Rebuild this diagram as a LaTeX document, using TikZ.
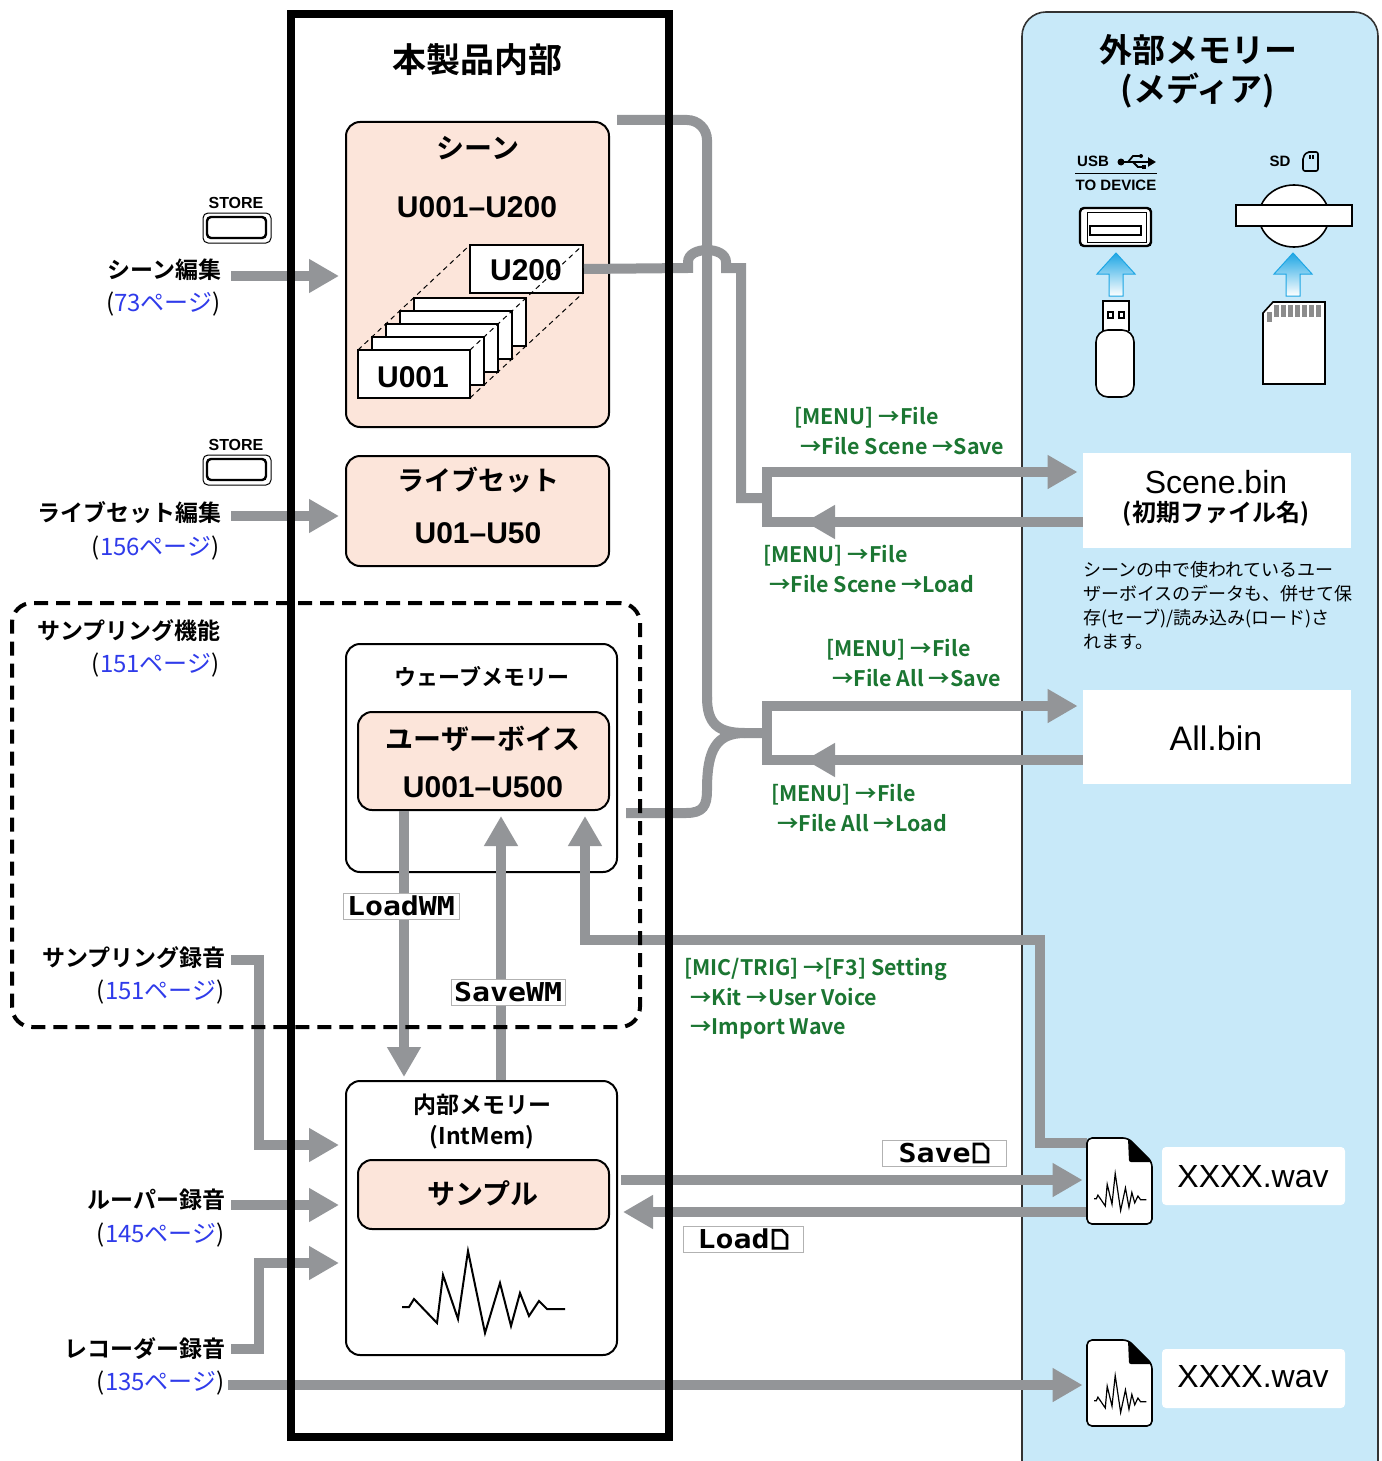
\documentclass[tikz,border=0pt]{standalone}
\usepackage{fontspec}
\setmainfont{Noto Sans CJK JP}[BoldFont={* Bold}]
\newfontfamily\helv{Liberation Sans}
\newfontfamily\lcd{DejaVu Sans Mono}[FakeStretch=1.15]
\usetikzlibrary{arrows.meta,positioning,fit}

\definecolor{linegray}{HTML}{939598}
\definecolor{boxpink}{HTML}{FCE5DA}
\definecolor{panelblue}{HTML}{C8E9F9}
\definecolor{menugreen}{HTML}{1B7632}
\definecolor{pageblue}{HTML}{2F3BEA}
\definecolor{usbcyan}{HTML}{1EA6E4}

% page reference: number in blue, brackets in black
\newcommand{\seepage}[1]{(\textcolor{pageblue}{#1ページ})}
% little file symbol of the LCD
\newcommand{\fileglyph}{\hspace{1pt}\tikz[baseline=0pt]\draw[line width=1.3pt] (0pt,0pt) -- (0pt,9pt) -- (4.5pt,9pt) -- (7pt,6.5pt) -- (7pt,0pt) -- cycle;}

\tikzset{
  conn/.style={draw=linegray, line width=5pt},
  flow/.style={conn, -{Triangle[length=15pt,width=16pt]}},
  pinkbox/.style={draw, fill=boxpink, line width=1pt, rounded corners=7pt, inner sep=0pt},
  plainbox/.style={draw, fill=white, line width=1pt, rounded corners=7pt, inner sep=0pt},
  filebox/.style={fill=white, inner sep=0pt},
  card/.style={draw, fill=white, line width=1pt, inner sep=0pt},
  guide/.style={dash pattern=on 2.5pt off 2pt, line width=0.5pt},
  boxtitle/.style={font=\bfseries\fontsize{14}{16}\selectfont},
  idtext/.style={font=\helv\bfseries\fontsize{15}{17}\selectfont},
  menu/.style={anchor=west, align=left, inner sep=0pt, text=menugreen, font=\bfseries\fontsize{10.7}{14.75}\selectfont},
  lbl/.style={anchor=east, inner sep=0pt, font=\bfseries\fontsize{11.5}{14}\selectfont},
  pgref/.style={anchor=east, inner sep=0pt, font=\fontsize{12}{14}\selectfont},
  lcdtag/.style={draw=black!30, fill=white, inner sep=0pt, minimum height=13pt, font=\lcd\bfseries\fontsize{13}{13}\selectfont},
  wavetrace/.pic={
    \draw (-81,15) -- (-74,15) -- (-69,7) -- (-46,31) -- (-40,-17) -- (-25,27) -- (-15,-41) -- (2,41) -- (17,-9) -- (28,34) -- (37,1) -- (46,24) -- (56,9) -- (64,17) -- (82,17);
  },
  wavfile/.pic={
    \draw[fill=white, line width=0.8pt, rounded corners=2.5pt] (0,0) -- (41,0) -- (65,24) -- (65,86) -- (0,86) -- cycle;
    \fill[rounded corners=1pt] (41,0) -- (65,24) -- (42,24) -- cycle;
    \pic[xscale=0.32, yscale=0.45, line width=0.6pt] at (33,54) {wavetrace};
  },
  upcue/.pic={
    \shadedraw[top color=usbcyan, middle color=usbcyan!60, bottom color=white, draw=usbcyan, line width=0.5pt]
      (0,0) -- (19,21) -- (7,21) -- (7,43) -- (-7,43) -- (-7,21) -- (-19,21) -- cycle;
  }
}

\begin{document}
\begin{tikzpicture}[x=0.5pt, y=-0.5pt]
  \useasboundingbox (0,0) rectangle (1381,1461);

  % external media panel
  \draw[fill=panelblue, draw=black!80, line width=0.8pt, rounded corners=12pt] (1022,1520) -- (1022,12) -- (1378,12) -- (1378,1520);
  \node[font=\bfseries\fontsize{16.5}{19}\selectfont] (medtitle) at (1198,50) {外部メモリー};
  \node[font=\bfseries\fontsize{16.5}{19}\selectfont] (medsub) at (1198,90) {(メディア)};

  % USB port
  \node[font=\helv\bfseries\fontsize{7.5}{9}\selectfont] (usbtxt) at (1093,161) {USB};
  \fill (1121,162) circle [radius=3.5];
  \draw[line width=1pt, -{Triangle[length=4pt,width=4.5pt]}] (1121,162) -- (1156,162);
  \draw[line width=0.9pt] (1128,162) -- (1133,156) -- (1140,156);
  \fill (1141,156) circle [radius=2];
  \draw[line width=0.9pt] (1133,162) -- (1138,167) -- (1143,167);
  \fill (1142,165) rectangle (1146,169);
  \draw[line width=0.5pt] (1075,173) -- (1157,173);
  \node[font=\helv\bfseries\fontsize{7.5}{9}\selectfont] (todev) at (1116,185) {TO DEVICE};
  \draw[line width=1.2pt, fill=white, rounded corners=2pt] (1080,208) rectangle (1151,246);
  \draw[line width=0.5pt] (1087,212) rectangle (1146,242);
  \draw[line width=1.2pt] (1090,226) rectangle (1141,235);
  \pic at (1116,253) {upcue};
  % USB stick
  \draw[line width=0.8pt, fill=white] (1103,331) -- (1103,301) -- (1129,301) -- (1129,331);
  \draw[line width=0.8pt] (1108,312) rectangle (1113,318) (1119,312) rectangle (1124,318);
  \draw[line width=0.8pt, fill=white, rounded corners=6pt] (1096,330) -- (1096,397) -- (1134,397) -- (1134,330) -- cycle;

  % SD slot
  \node[font=\helv\bfseries\fontsize{7.5}{9}\selectfont] (sdtxt) at (1280,161) {SD};
  \draw[line width=0.8pt, rounded corners=1pt] (1303,157) -- (1307,152) -- (1318,152) -- (1318,171) -- (1303,171) -- cycle;
  \draw[line width=0.6pt] (1310,155) -- (1310,159) (1313,155) -- (1313,159);
  \draw[line width=0.8pt, fill=white] (1294,216) ellipse [x radius=35, y radius=31];
  \draw[line width=1pt, fill=white] (1236,205) rectangle (1352,226);
  \pic at (1293,253) {upcue};
  % SD card
  \draw[line width=0.8pt, fill=white] (1263,313) -- (1273,302) -- (1325,302) -- (1325,384) -- (1263,384) -- cycle;
  \foreach \i in {0,...,6}
    \fill[black!45] (1274+7*\i,305) rectangle ++(5,12);
  \fill[black!45] (1267,312) rectangle (1272,322);

  % files on the media
  \node[filebox, fit={(1083,453) (1351,548)}] (scenebin) {};
  \node[font=\helv\fontsize{16}{18}\selectfont] (scenename) at (1216,482) {Scene.bin};
  \node[font=\bfseries\fontsize{12}{14}\selectfont] (scenedef) at (1216,514) {(初期ファイル名)};
  \node[anchor=north west, align=left, inner sep=0pt, font=\fontsize{9}{12}\selectfont] (note) at (1083,561)
    {シーンの中で使われているユー\\ザーボイスのデータも、併せて保\\存(セーブ)/読み込み(ロード)さ\\れます。};
  \node[filebox, fit={(1083,690) (1351,784)}] (allbin) {};
  \node[font=\helv\fontsize{17}{19}\selectfont] (allname) at (1216,738) {All.bin};
  \node[filebox, rounded corners=2pt, fit={(1162,1147) (1345,1205)}] (wavnameA) {};
  \node[font=\helv\fontsize{16}{18}\selectfont] at (1253,1177) {XXXX.wav};
  \node[filebox, rounded corners=2pt, fit={(1162,1349) (1345,1408)}] (wavnameB) {};
  \node[font=\helv\fontsize{16}{18}\selectfont] at (1253,1377) {XXXX.wav};
  \node[inner sep=0pt, fit={(1087,1138) (1152,1224)}] (wavA) {};
  \node[inner sep=0pt, fit={(1087,1340) (1152,1425)}] (wavB) {};

  % scenes
  \node[pinkbox, fit={(346,122) (609,427)}] (scene) {};
  \node[boxtitle] (scenetitle) at (478,148) {シーン};
  \node[idtext] (scenerange) at (477,207) {U001–U200};
  \draw[guide] (358,350) -- (470,245) (470,398) -- (583,293);
  \node[card, fit={(470,245) (583,293)}] (u200) {};
  \node[idtext] at (526,270) {U200};
  \foreach \k in {4,3,2,1}
    \node[card, fit={(358+14*\k,350-13*\k) (470+14*\k,398-13*\k)}] (card\k) {};
  \node[card, fit={(358,350) (470,398)}] (u001) {};
  \node[idtext] at (413,377) {U001};
  \draw[guide] (470,350) -- (583,245);

  % live sets
  \node[pinkbox, fit={(346,456) (609,566)}] (liveset) {};
  \node[font=\bfseries\fontsize{13.5}{16}\selectfont] (livetitle) at (478,480) {ライブセット};
  \node[idtext] (liverange) at (478,533) {U01–U50};

  % wave memory
  \node[plainbox, fit={(346,644) (617,872)}] (wavemem) {};
  \node[font=\bfseries\fontsize{11}{13}\selectfont] (wavetitle) at (482,677) {ウェーブメモリー};
  \node[pinkbox, fit={(358,712) (609,810)}] (uservoice) {};
  \node[boxtitle] (uvtitle) at (483,739) {ユーザーボイス};
  \node[idtext] (uvrange) at (483,787) {U001–U500};

  % internal memory
  \node[plainbox, fit={(346,1081) (617,1355)}] (intmem) {};
  \node[font=\bfseries\fontsize{11.5}{13}\selectfont] (inttitle) at (482,1105) {内部メモリー};
  \node[font=\bfseries\fontsize{11.5}{13}\selectfont] (intsub) at (482,1137) {(IntMem)};
  \node[pinkbox, fit={(358,1160) (609,1229)}] (sample) {};
  \node[boxtitle] (smptitle) at (483,1193) {サンプル};
  \pic[line width=1pt] at (483,1292) {wavetrace};

  % left hand labels
  \node[lbl] (sceneedit) at (222,270) {シーン編集};
  \node[pgref] (sceneref) at (221,304) {\seepage{73}};
  \node[lbl] (liveedit) at (222,513) {ライブセット編集};
  \node[pgref] (liveref) at (220,548) {\seepage{156}};
  \node[lbl] (smpfunc) at (221,631) {サンプリング機能};
  \node[pgref] (smpref) at (220,665) {\seepage{151}};
  \node[lbl] (smprec) at (226,958) {サンプリング録音};
  \node[pgref] (smprecref) at (225,992) {\seepage{151}};
  \node[lbl] (looprec) at (226,1200) {ルーパー録音};
  \node[pgref] (loopref) at (225,1235) {\seepage{145}};
  \node[lbl] (recrec) at (226,1349) {レコーダー録音};
  \node[pgref] (recref) at (225,1383) {\seepage{135}};

  % STORE buttons
  \node[font=\helv\bfseries\fontsize{8}{9}\selectfont] (storeA) at (236,203) {STORE};
  \draw[line width=0.5pt, rounded corners=2.5pt] (203,213) rectangle (271,243);
  \draw[line width=1.2pt, rounded corners=2pt] (207,217) rectangle (266,238);
  \node[font=\helv\bfseries\fontsize{8}{9}\selectfont] (storeB) at (236,445) {STORE};
  \draw[line width=0.5pt, rounded corners=2.5pt] (203,455) rectangle (271,485);
  \draw[line width=1.2pt, rounded corners=2pt] (207,459) rectangle (266,480);

  % menu paths
  \node[menu] (scenesave) at (794,431) {[MENU] →File\\\hspace*{3pt}→File Scene →Save};
  \node[menu] (sceneload) at (763,569) {[MENU] →File\\\hspace*{3pt}→File Scene →Load};
  \node[menu] (allsave) at (826,663) {[MENU] →File\\\hspace*{3pt}→File All →Save};
  \node[menu] (allload) at (771,808) {[MENU] →File\\\hspace*{3pt}→File All →Load};
  \node[menu] (importwv) at (684,999) {[MIC/TRIG] →[F3] Setting\\\hspace*{3pt}→Kit →User Voice\\\hspace*{3pt}→Import Wave};

  % data flow
  \draw[flow, shorten >=3pt] ([xshift=4.5pt,yshift=-3pt]sceneedit.east) -- (scene.west |- 0,276);
  \draw[flow, shorten >=3pt] ([xshift=4.5pt,yshift=-1.5pt]liveedit.east) -- (liveset.west |- 0,516);
  \draw[flow, shorten >=3pt] ([xshift=2.5pt,yshift=-1pt]smprec.east) -- (259,960) -- (259,1145) -- (intmem.west |- 0,1145);
  \draw[flow, shorten >=3pt] ([xshift=2.5pt,yshift=-2.5pt]looprec.east) -- (intmem.west |- 0,1205);
  \draw[flow, shorten >=3pt] ([xshift=2.5pt]recrec.east) -- (259,1349) -- (259,1263) -- (intmem.west |- 0,1263);
  \draw[flow, shorten >=2pt] ([xshift=1.5pt,yshift=-1pt]recref.east) -- (wavB.west |- 0,1385);

  \draw[conn] (u200.east) -- (688,268) -- (688,262) .. controls (688,246) and (726,246) .. (726,262) -- (726,268) -- (741,268) -- (741,498) -- (767,498);
  \draw[conn, rounded corners=10pt] (617,120) -- (707,120) -- (707,700);
  \draw[conn] (707,697) .. controls (707,724) and (718,733) .. (745,733) -- (767,733);
  \draw[conn] ([xshift=4pt]wavemem.east |- 0,813) -- (686,813) .. controls (703,813) and (707,806) .. (707,790) .. controls (707,750) and (716,733) .. (745,733);
  \draw[flow, shorten >=2.5pt] (scenebin.west |- 0,522) -- (767,522) -- (767,472) -- (scenebin.west |- 0,472);
  \draw[flow] (scenebin.west |- 0,522) -- (805,522);
  \draw[flow, shorten >=2.5pt] (allbin.west |- 0,760) -- (767,760) -- (767,706) -- (allbin.west |- 0,706);
  \draw[flow] (allbin.west |- 0,760) -- (805,760);

  \draw[flow] (uservoice.south -| 404,0) -- ([yshift=1.5pt]intmem.north -| 404,0);
  \draw[flow] (intmem.north -| 501,0) -- ([yshift=-2.5pt]uservoice.south -| 501,0);
  \draw[flow] (wavA.west |- 0,1143) -- (1040,1143) -- (1040,940) -- (585,940) -- ([yshift=-2.5pt]uservoice.south -| 585,0);
  \draw[flow, shorten >=2pt] ([xshift=1.5pt]intmem.east |- 0,1180) -- (wavA.west |- 0,1180);
  \draw[flow, shorten >=2.5pt] (wavA.west |- 0,1212) -- (intmem.east |- 0,1212);

  % wave files
  \pic at (1087,1138) {wavfile};
  \pic at (1087,1340) {wavfile};

  % device frame and sampling area
  \node[draw, line width=4pt, inner sep=0pt, fit={(291,14) (669,1437)}] (device) {};
  \node[font=\bfseries\fontsize{17}{20}\selectfont] (devtitle) at (477,60) {本製品内部};
  \node[draw, line width=2pt, dash pattern=on 7pt off 4pt, rounded corners=10pt, inner sep=0pt, fit={(12,603) (640,1027)}] (smparea) {};

  % LCD tags
  \node[lcdtag, minimum width=58pt] (loadwm) at (401,906) {LoadWM};
  \node[lcdtag, minimum width=57pt] (savewm) at (508,992) {SaveWM};
  \node[lcdtag, minimum width=62pt] (savefile) at (944,1153) {Save\fileglyph};
  \node[lcdtag, minimum width=60pt] (loadfile) at (743,1239) {Load\fileglyph};
\end{tikzpicture}
\end{document}
